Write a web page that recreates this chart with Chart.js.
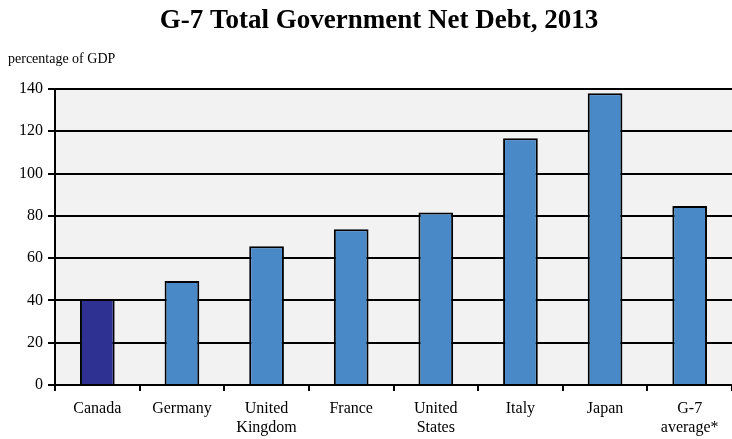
<!DOCTYPE html>
<html>
<head>
<meta charset="utf-8">
<script src="https://cdn.jsdelivr.net/npm/chart.js@4"></script>
<style>
  html, body { margin: 0; padding: 0; background: #fff; }
  #wrap { width: 732px; height: 439px; }
</style>
</head>
<body>
<div id="wrap"><canvas id="chart" width="732" height="439"></canvas></div>
<script>
const countries = ["Canada", ["Germany"], ["United", "Kingdom"], "France", ["United", "States"], "Italy", "Japan", ["G-7", "average*"]];
const netDebt = [40.7, 49.2, 65.6, 73.7, 81.6, 116.7, 138.0, 84.7];
const barColors = ["#2e3192", "#4a89c8", "#4a89c8", "#4a89c8", "#4a89c8", "#4a89c8", "#4a89c8", "#4a89c8"];
const yTicks = [0, 20, 40, 60, 80, 100, 120, 140];
const chartTitle = "G-7 Total Government Net Debt, 2013";
const unitLabel = "percentage of GDP";

const serif = "'Liberation Serif', 'DejaVu Serif', serif";

// grey fill behind the plot, plus the title and unit label drawn by hand
// (the title in the original is a bit right of the page centre)
const decor = {
  id: "decor",
  beforeDraw(chart) {
    const { ctx, chartArea: a } = chart;
    ctx.save();
    ctx.fillStyle = "#f2f2f2";
    ctx.fillRect(a.left, a.top, a.right - a.left, a.bottom - a.top);
    ctx.restore();
  },
  afterDraw(chart) {
    const { ctx } = chart;
    ctx.save();
    ctx.fillStyle = "#000";
    ctx.textBaseline = "alphabetic";
    ctx.textAlign = "center";
    ctx.font = "bold 27px " + serif;
    ctx.fillText(chartTitle, 379, 28);
    ctx.textBaseline = "middle";
    ctx.textAlign = "left";
    ctx.font = "14px " + serif;
    ctx.fillText(unitLabel, 8, 59);
    ctx.restore();
  },
};

new Chart(document.getElementById("chart").getContext("2d"), {
  type: "bar",
  data: {
    labels: countries,
    datasets: [
      {
        data: netDebt,
        backgroundColor: barColors,
        borderColor: "#000",
        borderWidth: 2,
        barPercentage: 0.41,
        categoryPercentage: 1.0,
      },
    ],
  },
  options: {
    responsive: false,
    animation: false,
    layout: { padding: { left: 0, right: 0, top: 89, bottom: 0 } },
    plugins: {
      legend: { display: false },
      tooltip: { enabled: false },
      title: { display: false },
    },
    scales: {
      x: {
        offset: true,
        afterFit(scale) {
          scale.height = 54;
        },
        grid: {
          display: true,
          offset: true,
          drawOnChartArea: false,
          drawTicks: true,
          tickLength: 6,
          color: "#000",
          lineWidth: 2,
        },
        border: { display: true, color: "#000", width: 2 },
        ticks: {
          color: "#000",
          font: { family: serif, size: 16, lineHeight: 1.2 },
          padding: 8,
          maxRotation: 0,
          autoSkip: false,
        },
      },
      y: {
        min: 0,
        max: 140,
        afterBuildTicks(scale) {
          scale.ticks = yTicks.map((v) => ({ value: v }));
        },
        afterFit(scale) {
          scale.width = 55;
        },
        grid: {
          color: "#000",
          lineWidth: 2,
          drawTicks: true,
          tickLength: 7,
        },
        border: { display: true, color: "#000", width: 2 },
        ticks: {
          color: "#000",
          font: { family: serif, size: 16 },
          padding: 5,
        },
      },
    },
  },
  plugins: [decor],
});
</script>
</body>
</html>
